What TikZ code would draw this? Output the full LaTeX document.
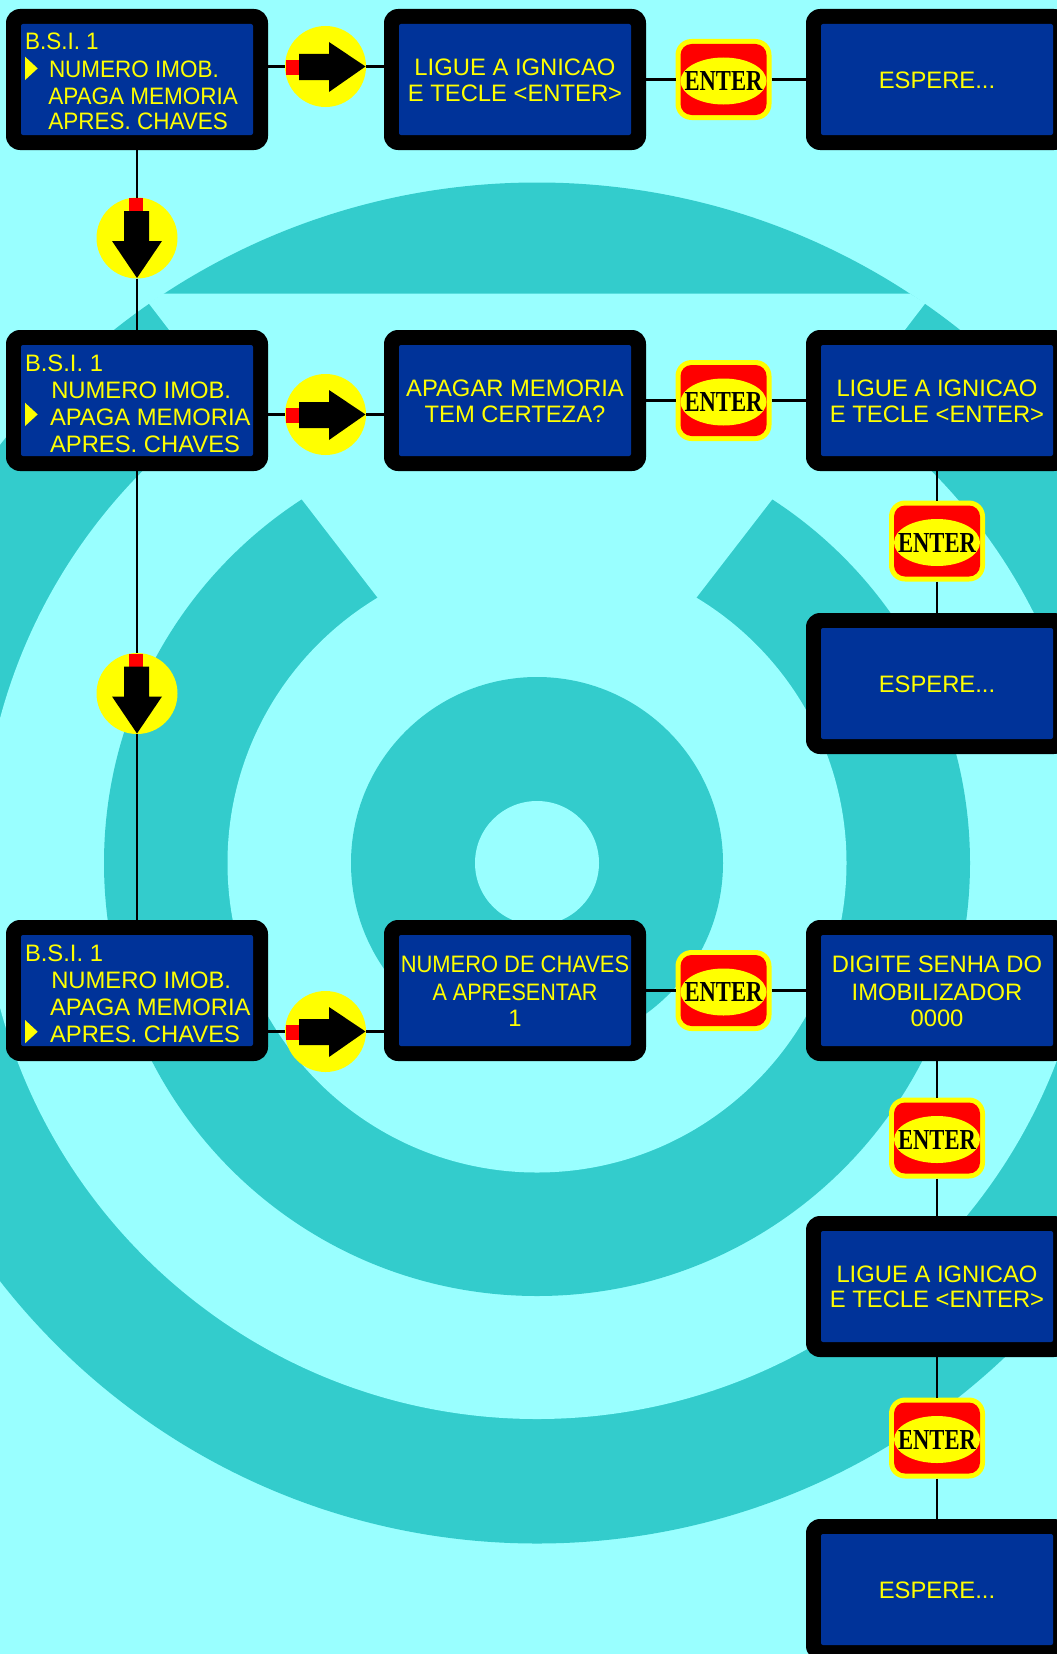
\documentclass[tikz,border=0pt]{standalone}
\usepackage{fontspec}
\setmainfont{Liberation Sans}
\newfontfamily\entfont{Liberation Serif}
\usetikzlibrary{shapes.geometric}
\definecolor{bgl}{HTML}{99FFFF}
\definecolor{teal1}{HTML}{33CCCC}
\definecolor{lcdblue}{HTML}{003399}
\definecolor{yel}{HTML}{FFFF00}
\definecolor{rd}{HTML}{FF0000}
\tikzset{
 frame/.style={rectangle,fill=black,rounded corners=14pt,minimum width=262pt,minimum height=141pt,inner sep=0pt,outer sep=0pt},
 lcd/.style={rectangle,fill=lcdblue,rounded corners=2pt,minimum width=232pt,minimum height=111pt,inner sep=0pt,outer sep=0pt},
 lab/.style={text=yel,inner sep=0pt,outer sep=0pt,font=\fontsize{23.8}{27}\selectfont},
 labc/.style={lab,anchor=base},
 labl/.style={lab,anchor=base west},
 disc/.style={circle,fill=yel,minimum size=81pt,inner sep=0pt,outer sep=0pt},
 entout/.style={rectangle,fill=yel,rounded corners=16pt,minimum width=96pt,minimum height=81pt,inner sep=0pt,outer sep=0pt},
 entin/.style={rectangle,fill=rd,rounded corners=11pt,minimum width=86pt,minimum height=71pt,inner sep=0pt,outer sep=0pt},
 entell/.style={ellipse,fill=yel,minimum width=86pt,minimum height=47pt,inner sep=0pt,outer sep=0pt},
 enttxt/.style={text=black,inner sep=0pt,outer sep=0pt,anchor=base,font=\entfont\bfseries\fontsize{29}{29}\selectfont},
 wire/.style={line width=2.2pt,black},
}
% frame with screen: name, centre x, top y
\newcommand{\scr}[3]{%
 \node[frame] (#1) at (#2,#3+70.5) {};
 \node[lcd] (#1i) at (#2,#3+70.5) {};
}
% ENTER key: name, centre x, centre y
\newcommand{\enterkey}[3]{%
 \node[entout] (#1) at (#2,#3) {};
 \node[entin] (#1r) at (#2,#3) {};
 \node[entell] (#1e) at (#2,#3+1.5) {};
 \node[enttxt] (#1t) at (#2,#3+11) {\scalebox{.78}[1]{ENTER}};
}
\newcommand{\rarrow}[3]{%
 \node[disc] (#1) at (#2,#3) {};
 \begin{scope}[shift={(#2,#3)}]
 \fill[rd] (-40,-6.5) rectangle (-26.5,8.5);
 \fill[black] (-26.5,-12.5) -- (3.5,-12.5) -- (3.5,-24.5) -- (40,0) -- (3.5,25.5) -- (3.5,13.5) -- (-26.5,13.5) -- cycle;
 \end{scope}
}
\newcommand{\darrow}[3]{%
 \node[disc] (#1) at (#2,#3) {};
 \begin{scope}[shift={(#2,#3)}]
 \fill[rd] (-8,-40) rectangle (6,-27);
 \fill[black] (-13,-27) -- (12,-27) -- (12,3) -- (25,3) -- (0,40) -- (-25,3) -- (-13,3) -- cycle;
 \end{scope}
}
\newcommand{\pointer}[1]{\fill[yel] (25,#1) -- (37.7,#1+11.7) -- (25,#1+23.4) -- cycle;}
\newcommand{\sx}[2]{\scalebox{#1}[1]{#2}}
\begin{document}
\begin{tikzpicture}[x=1pt,y=-1pt]
\useasboundingbox (0,0) rectangle (1057,1654);
\begin{scope}
 \clip (0,0) rectangle (1057,1654);
 \fill[bgl] (0,0) rectangle (1057,1654);
 \fill[teal1] (537,863) circle[radius=680.5pt];
 \fill[bgl] (537,863) circle[radius=556pt];
 \fill[teal1] (537,863) circle[radius=433pt];
 \fill[bgl] (537,863) circle[radius=309.5pt];
 \fill[teal1] (537,863) circle[radius=186pt];
 \fill[bgl] (537,863) circle[radius=62pt];
 % gap of the outer ring
 \fill[bgl] (163,293.5) -- (910,293.5) -- (925.3,303.3) -- (846.3,406.3) -- (227.7,406.3) -- (148.7,303.3) -- cycle;
 % gap of the middle ring
 \fill[bgl] (240.6,420) -- (833.4,420) -- (772.3,499.3) -- (693.6,601.3) -- (380.4,601.3) -- (301.7,499.3) -- cycle;
\end{scope}

% first column
\scr{a1}{137}{9}
\scr{a2}{137}{330}
\scr{a3}{137}{920}
% second column
\scr{b1}{515}{9}
\scr{b2}{515}{330}
\scr{b3}{515}{920}
% third column
\scr{c1}{937}{9}
\scr{c2}{937}{330}
\scr{c2b}{937}{613}
\scr{c3}{937}{920}
\scr{c4}{937}{1216}
\scr{c5}{937}{1519}

% round arrows
\rarrow{r1}{325.5}{66.5}
\rarrow{r2}{325.5}{414.5}
\rarrow{r3}{325.5}{1031.5}
\darrow{d1}{137}{238}
\darrow{d2}{137}{693.5}

% enter keys
\enterkey{e1}{723.5}{79.5}
\enterkey{e2}{723.5}{400.5}
\enterkey{e3}{723.5}{990.5}
\enterkey{e4}{937}{541}
\enterkey{e5}{937}{1138}
\enterkey{e6}{937}{1438}

% connectors
\draw[wire] (a1.south) -- (d1.north);
\draw[wire] (d1.south) -- (a2.north);
\draw[wire] (a2.south) -- (d2.north);
\draw[wire] (d2.south) -- (a3.north);
\draw[wire] (r1.west -| a1.east) -- (r1.west);
\draw[wire] (r1.east) -- (r1.east -| b1.west);
\draw[wire] (r2.west -| a2.east) -- (r2.west);
\draw[wire] (r2.east) -- (r2.east -| b2.west);
\draw[wire] (r3.west -| a3.east) -- (r3.west);
\draw[wire] (r3.east) -- (r3.east -| b3.west);
\draw[wire] (b1.east) -- (e1.west);
\draw[wire] (e1.east) -- (c1.west);
\draw[wire] (b2.east) -- (e2.west);
\draw[wire] (e2.east) -- (c2.west);
\draw[wire] (b3.east) -- (e3.west);
\draw[wire] (e3.east) -- (c3.west);
\draw[wire] (c2.south) -- (e4.north);
\draw[wire] (e4.south) -- (c2b.north);
\draw[wire] (c3.south) -- (e5.north);
\draw[wire] (e5.south) -- (c4.north);
\draw[wire] (c4.south) -- (e6.north);
\draw[wire] (e6.south) -- (c5.north);

% menu 1
\node[labl] (m11) at (25,49.3) {\sx{.945}{B.S.I. 1}};
\node[labl] (m12) at (49,77.3) {\sx{.945}{NUMERO IMOB.}};
\node[labl] (m13) at (48.3,104.3) {\sx{.945}{APAGA MEMORIA}};
\node[labl] (m14) at (48.3,129.6) {\sx{.945}{APRES. CHAVES}};
\pointer{56.7}
% menu 2
\node[labl] (m21) at (25,371) {B.S.I. 1};
\node[labl] (m22) at (51.3,398) {NUMERO IMOB.};
\node[labl] (m23) at (50,425.3) {APAGA MEMORIA};
\node[labl] (m24) at (50,452) {APRES. CHAVES};
\pointer{402.7}
% menu 3
\node[labl] (m31) at (25,961) {B.S.I. 1};
\node[labl] (m32) at (51.3,988) {NUMERO IMOB.};
\node[labl] (m33) at (50,1015.3) {APAGA MEMORIA};
\node[labl] (m34) at (50,1042) {APRES. CHAVES};
\pointer{1020}

% screens
\node[labc] (t1) at (515,75) {LIGUE A IGNICAO};
\node[labc] (t2) at (515,101.3) {E TECLE <ENTER>};
\node[labc] (t3) at (937,88.3) {ESPERE...};
\node[labc] (t4) at (515,396) {APAGAR MEMORIA};
\node[labc] (t5) at (515,422.3) {TEM CERTEZA?};
\node[labc] (t6) at (937,396) {LIGUE A IGNICAO};
\node[labc] (t7) at (937,422.3) {E TECLE <ENTER>};
\node[labc] (t8) at (937,692.3) {ESPERE...};
\node[labc] (t9) at (515,972.3) {\sx{.92}{NUMERO DE CHAVES}};
\node[labc] (t10) at (515,1000) {\sx{.906}{A APRESENTAR}};
\node[labc] (t11) at (515,1026) {1};
\node[labc] (t12) at (937,972.3) {DIGITE SENHA DO};
\node[labc] (t13) at (937,1000) {IMOBILIZADOR};
\node[labc] (t14) at (937,1026) {0000};
\node[labc] (t15) at (937,1282) {LIGUE A IGNICAO};
\node[labc] (t16) at (937,1307.3) {E TECLE <ENTER>};
\node[labc] (t17) at (937,1598) {ESPERE...};
\end{tikzpicture}
\end{document}
